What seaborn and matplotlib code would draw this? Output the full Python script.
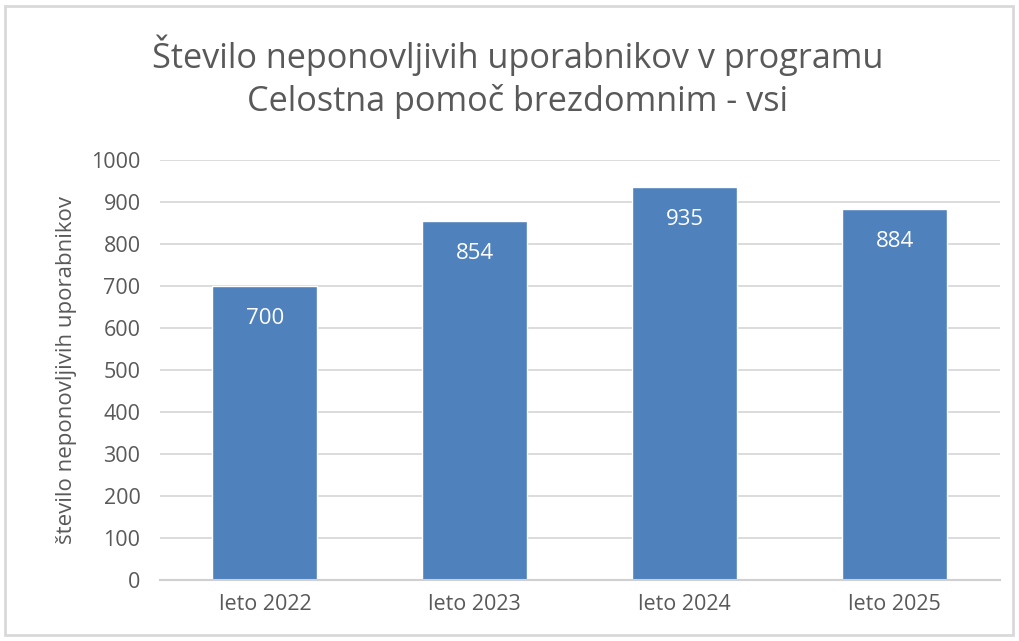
import matplotlib
matplotlib.use("Agg")
import pandas as pd
import seaborn as sns
import matplotlib.pyplot as plt
from matplotlib.patches import Rectangle


years = ["leto 2022", "leto 2023", "leto 2024", "leto 2025"]
users = [700, 854, 935, 884]
y_ticks = [0, 100, 200, 300, 400, 500, 600, 700, 800, 900, 1000]

TEXT = "#595959"
BAR = "#4F81BD"


def draw_chart():
    sns.set_theme(style="white")
    plt.rcParams["font.family"] = ["Open Sans", "DejaVu Sans"]

    df = pd.DataFrame({"year": years, "users": users})

    fig = plt.figure(figsize=(10.19, 6.41), dpi=100)
    ax = fig.add_axes([0.157, 0.0952, 0.824, 0.6552])

    sns.barplot(data=df, x="year", y="users", color=BAR, width=0.5,
                saturation=1, ax=ax)

    for i, v in enumerate(users):
        ax.annotate(str(v), (i, v), xytext=(0, -23.5), textcoords="offset points",
                    ha="center", va="center", color="white", fontsize=16)

    ax.set_xlim(-0.5, 3.5)
    ax.set_ylim(0, 1000)
    ax.set_yticks(y_ticks)
    ax.yaxis.grid(True, color="#D9D9D9", linewidth=1.3)
    ax.set_axisbelow(True)
    for s in ["top", "right", "left"]:
        ax.spines[s].set_visible(False)
    ax.spines["bottom"].set_color("#D0D0D0")
    ax.spines["bottom"].set_linewidth(1.5)
    ax.tick_params(axis="both", colors=TEXT, labelsize=15.5, length=0)
    ax.tick_params(axis="y", pad=14)
    ax.tick_params(axis="x", pad=10)
    ax.set_xlabel("")
    ax.set_ylabel("število neponovljivih uporabnikov", color=TEXT, fontsize=16,
                  labelpad=10)

    fig.text(0.508, 0.914, "Število neponovljivih uporabnikov v programu",
             ha="center", va="center", fontsize=24.7, color=TEXT)
    fig.text(0.508, 0.842, "Celostna pomoč brezdomnim - vsi",
             ha="center", va="center", fontsize=24.7, color=TEXT)

    fig.patches.append(Rectangle((5 / 1019, 6 / 641), 1008 / 1019, 629 / 641,
                                 transform=fig.transFigure, fill=False,
                                 edgecolor="#D9D9D9", linewidth=2))

    fig.savefig("out.png", dpi=100)


if __name__ == "__main__":
    draw_chart()
